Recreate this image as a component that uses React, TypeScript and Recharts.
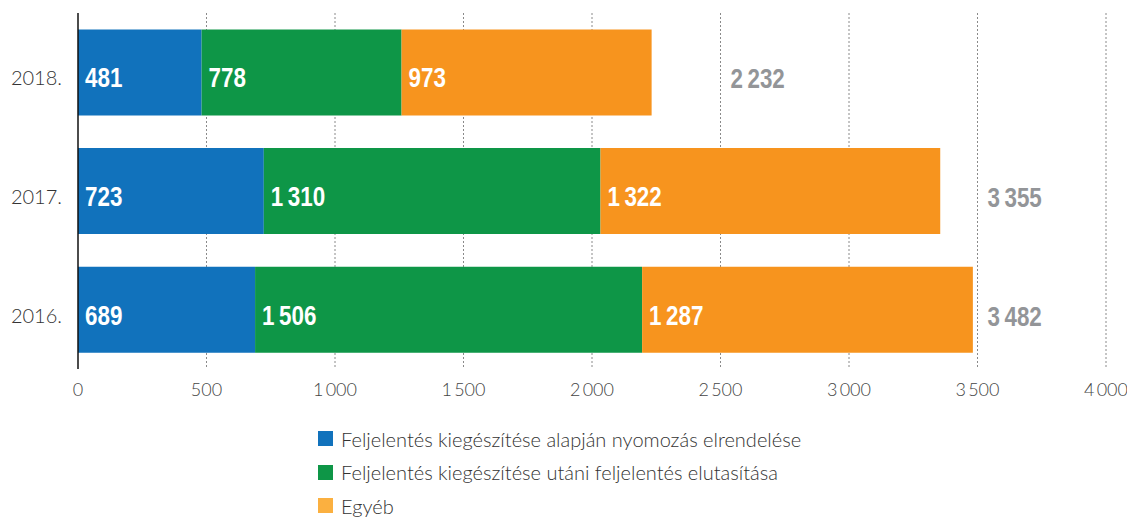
import React from "react";
import { BarChart, Bar, XAxis, YAxis, CartesianGrid, LabelList, Legend } from "recharts";

const years = ["2018.", "2017.", "2016."];
const nyomozas = [481, 723, 689];
const elutasitas = [778, 1310, 1506];
const egyeb = [973, 1322, 1287];
const totals = [2232, 3355, 3482];
const xTicks = [0, 500, 1000, 1500, 2000, 2500, 3000, 3500, 4000];
const seriesNames = [
  "Feljelentés kiegészítése alapján nyomozás elrendelése",
  "Feljelentés kiegészítése utáni feljelentés elutasítása",
  "Egyéb",
];

const data = years.map((y, i) => ({
  year: y,
  a: nyomozas[i],
  b: elutasitas[i],
  c: egyeb[i],
  total: totals[i],
}));

const COLORS = ["#1172BC", "#0E9647", "#F7941E"];
const LEGEND_COLORS = ["#1172BC", "#0E9647", "#FBB040"];
const LIGHT_FONT = "Lato, 'Source Sans Pro', 'Open Sans', sans-serif";
const BOLD_FONT = "'Liberation Sans', Arial, sans-serif";

const fmt = (v: number) => {
  const s = String(v);
  return s.length > 3 ? s.slice(0, s.length - 3) + "\u2009" + s.slice(-3) : s;
};

const CondText = ({ x, y, fill, children }: any) => (
  <text
    transform={`translate(${x},${y}) scale(0.8,1)`}
    x={0}
    y={0}
    fill={fill}
    fontFamily={BOLD_FONT}
    fontWeight={700}
    fontSize={28}
    dominantBaseline="central"
  >
    {children}
  </text>
);

const ValueLabel = (props: any) => {
  const { x, y, height, value } = props;
  return (
    <CondText x={x + 7} y={y + height / 2 + 5} fill="#fff">
      {fmt(value)}
    </CondText>
  );
};

const TotalLabel = (props: any) => {
  const { x, y, width, height, index } = props;
  const d = data[index];
  const start = d.a + d.b;
  const k = width / d.c;
  const x0 = x - start * k;
  const target = Math.ceil(d.total / 500) * 500;
  return (
    <CondText x={x0 + target * k + 10} y={y + height / 2 + 6} fill="#939598">
      {fmt(d.total)}
    </CondText>
  );
};

const YTick = (props: any) => {
  const { x, y, payload } = props;
  return (
    <text
      x={x}
      y={y + 5}
      textAnchor="end"
      dominantBaseline="central"
      fill="#333"
      fontFamily={LIGHT_FONT}
      fontWeight={300}
      fontSize={20}
    >
      {payload.value}
    </text>
  );
};

const LegendContent = () => (
  <div style={{ fontFamily: LIGHT_FONT, fontWeight: 300, fontSize: 20, color: "#333" }}>
    {seriesNames.map((n, i) => (
      <div key={n} style={{ display: "flex", alignItems: "center", height: 33.5 }}>
        <span
          style={{
            display: "inline-block",
            width: 15,
            height: 15,
            background: LEGEND_COLORS[i],
            marginRight: 8,
          }}
        />
        <span>{n}</span>
      </div>
    ))}
  </div>
);

export default function App() {
  return (
    <BarChart
      width={1127}
      height={509}
      data={data}
      layout="vertical"
      margin={{ top: 5, right: 29, bottom: 108, left: 0 }}
      barCategoryGap="13.8%"
    >
      <CartesianGrid
        horizontal={false}
        vertical={true}
        stroke="#8a8a8a"
        strokeDasharray="2 2"
        verticalCoordinatesGenerator={(p: any) => {
          return xTicks.slice(1).map((t) => p.offset.left + (t / 4000) * p.offset.width);
        }}
      />
      <XAxis
        type="number"
        domain={[0, 4000]}
        ticks={xTicks}
        axisLine={false}
        tickLine={false}
        tickSize={0}
        tickMargin={14}
        height={40}
        tickFormatter={fmt}
        tick={{ fill: "#444", fontFamily: LIGHT_FONT, fontWeight: 300, fontSize: 18 }}
        interval={0}
      />
      <YAxis
        type="category"
        dataKey="year"
        width={70}
        axisLine={{ stroke: "#111", strokeWidth: 1.5 }}
        tickLine={false}
        tickSize={0}
        tickMargin={16}
        tick={<YTick />}
      />
      <Legend
        layout="horizontal"
        verticalAlign="middle"
        align="center"
        wrapperStyle={{ left: 310, top: 414, width: "auto" }}
        content={<LegendContent />}
      />
      <Bar dataKey="a" stackId="s" fill={COLORS[0]} name={seriesNames[0]} isAnimationActive={false}>
        <LabelList dataKey="a" content={<ValueLabel />} />
      </Bar>
      <Bar dataKey="b" stackId="s" fill={COLORS[1]} name={seriesNames[1]} isAnimationActive={false}>
        <LabelList dataKey="b" content={<ValueLabel />} />
      </Bar>
      <Bar dataKey="c" stackId="s" fill={COLORS[2]} name={seriesNames[2]} isAnimationActive={false}>
        <LabelList dataKey="c" content={<ValueLabel />} />
        <LabelList dataKey="total" content={<TotalLabel />} />
      </Bar>
    </BarChart>
  );
}
